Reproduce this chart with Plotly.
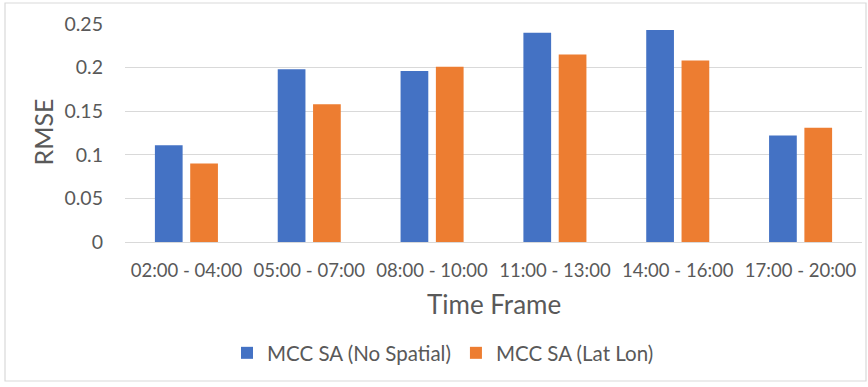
import plotly.graph_objects as go

categories = ["02:00 - 04:00", "05:00 - 07:00", "08:00 - 10:00",
              "11:00 - 13:00", "14:00 - 16:00", "17:00 - 20:00"]
no_spatial = [0.111, 0.198, 0.196, 0.240, 0.243, 0.122]
lat_lon = [0.090, 0.158, 0.201, 0.215, 0.208, 0.131]
y_ticks = [0, 0.05, 0.1, 0.15, 0.2, 0.25]
y_tick_text = ["0", "0.05", "0.1", "0.15", "0.2", "0.25"]

W, H = 868, 387
L, R, T, B = 125, 6, 24, 145
pw, ph = W - L - R, H - T - B

def px(x):
    return (x - L) / pw

def py(y):
    return (H - B - y) / ph

FONT = "Lato, 'Open Sans', sans-serif"
GREY = "#595959"

fig = go.Figure()
fig.add_trace(go.Bar(x=categories, y=no_spatial, name="MCC SA (No Spatial)",
                     marker=dict(color="#4472C4", line=dict(width=0))))
fig.add_trace(go.Bar(x=categories, y=lat_lon, name="MCC SA (Lat Lon)",
                     marker=dict(color="#ED7D31", line=dict(width=0))))

fig.update_layout(
    width=W, height=H,
    margin=dict(l=L, r=R, t=T, b=B, pad=0),
    paper_bgcolor="white", plot_bgcolor="white",
    barmode="group", bargap=0.425, bargroupgap=0.215,
    font=dict(family=FONT, color=GREY),
    showlegend=True,
    legend=dict(orientation="h", x=px(443), xanchor="center", y=py(353), yanchor="middle",
                font=dict(size=20.5, color=GREY, family=FONT), itemwidth=30,
                traceorder="normal"),
    xaxis=dict(showgrid=False, showline=False, zeroline=False,
               tickfont=dict(size=18.5, color=GREY, family=FONT),
               ticks="", ticklabelstandoff=15, fixedrange=True),
    yaxis=dict(range=[0, 0.25], tickvals=y_ticks, ticktext=y_tick_text,
               showgrid=True, gridcolor="#d9d9d9", gridwidth=1.3,
               zeroline=True, zerolinecolor="#d9d9d9", zerolinewidth=1.3,
               showline=False, ticks="",
               tickfont=dict(size=19.5, color=GREY, family=FONT),
               ticklabelstandoff=21, fixedrange=True),
    annotations=[
        dict(text="Time Frame", x=px(493.5), y=py(304), xref="paper", yref="paper",
             xanchor="center", yanchor="middle", showarrow=False,
             font=dict(size=26, color=GREY, family=FONT)),
        dict(text="RMSE", x=px(42.5), y=py(132), xref="paper", yref="paper",
             xanchor="center", yanchor="middle", showarrow=False, textangle=-90,
             font=dict(size=25, color=GREY, family=FONT)),
    ],
    shapes=[
        dict(type="rect", xref="paper", yref="paper",
             x0=px(5), x1=px(866), y0=py(381), y1=py(3),
             line=dict(color="#d9d9d9", width=1.2), fillcolor="rgba(0,0,0,0)", layer="below"),
    ],
)

fig.write_html("out.html", config={"displayModeBar": False},
               post_script="document.body.style.margin='0';document.body.style.overflow='hidden';")
